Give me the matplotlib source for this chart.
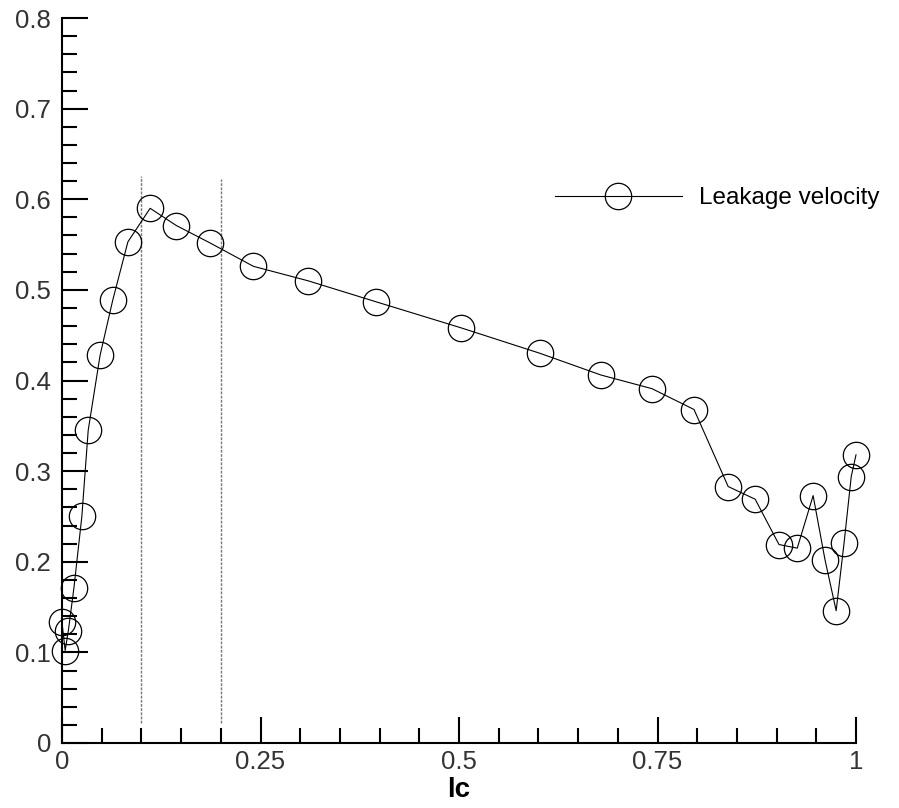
import matplotlib
matplotlib.use("Agg")
import matplotlib.pyplot as plt
import numpy as np

plt.rcParams['font.family'] = ['Liberation Sans', 'DejaVu Sans']

# leakage velocity along chord
lc = [0.0, 0.004, 0.008, 0.015, 0.025, 0.033, 0.048, 0.064, 0.083, 0.111,
      0.144, 0.186, 0.241, 0.310, 0.395, 0.503, 0.602, 0.679, 0.743, 0.796,
      0.839, 0.873, 0.903, 0.926, 0.946, 0.961, 0.975, 0.985, 0.994, 1.0]
velocity = [0.133, 0.102, 0.124, 0.171, 0.250, 0.345, 0.428, 0.489, 0.553, 0.590,
            0.571, 0.552, 0.526, 0.510, 0.487, 0.458, 0.430, 0.406, 0.391, 0.368,
            0.283, 0.269, 0.219, 0.215, 0.273, 0.202, 0.146, 0.221, 0.294, 0.318]

# dotted marker lines
mark_x = [0.1, 0.2]
mark_top = [0.626, 0.622]
mark_bottom = 0.022

xticks = [0, 0.25, 0.5, 0.75, 1]
xticklabels = ["0", "0.25", "0.5", "0.75", "1"]
yticks = [0, 0.1, 0.2, 0.3, 0.4, 0.5, 0.6, 0.7, 0.8]
yticklabels = ["0", "0.1", "0.2", "0.3", "0.4", "0.5", "0.6", "0.7", "0.8"]

fig = plt.figure(figsize=(8.99, 8.08), dpi=100)
ax = fig.add_axes([62 / 899, 65 / 808, 794 / 899, 725 / 808])

ax.plot(lc, velocity, color='black', lw=0.8, marker='o', markersize=19,
        markerfacecolor='none', markeredgecolor='black', markeredgewidth=0.9,
        label='Leakage velocity', clip_on=False, zorder=3)

for xv, top in zip(mark_x, mark_top):
    ax.vlines(xv, mark_bottom, top, colors='#777777', lw=1.0,
              linestyles=(0, (2, 1)))

ax.set_xlim(0, 1)
ax.set_ylim(0, 0.8)
for s in ['top', 'right']:
    ax.spines[s].set_visible(False)
for s in ['left', 'bottom']:
    ax.spines[s].set_linewidth(1.5)

ax.set_xticks(xticks)
ax.set_xticklabels(xticklabels)
ax.set_yticks(yticks)
ax.set_yticklabels(yticklabels)
ax.set_xticks(np.arange(0, 1.0001, 0.05), minor=True)
ax.set_yticks(np.arange(0, 0.8001, 0.02), minor=True)
ax.tick_params(which='major', direction='in', length=19, width=1.5,
               labelsize=18.5, labelcolor='#333333', pad=5)
ax.tick_params(which='minor', direction='in', length=11, width=1.5)
ax.tick_params(axis='y', pad=8)

ax.set_xlabel('lc', fontsize=20, fontweight='bold', labelpad=2)

ax.legend(loc='center left', bbox_to_anchor=(555 / 899, 1 - 198 / 808),
          bbox_transform=fig.transFigure, borderpad=0, borderaxespad=0,
          handlelength=125 / 24, handletextpad=17 / 24, frameon=False,
          numpoints=1, fontsize=17.5)

fig.savefig('out.png', dpi=100)
